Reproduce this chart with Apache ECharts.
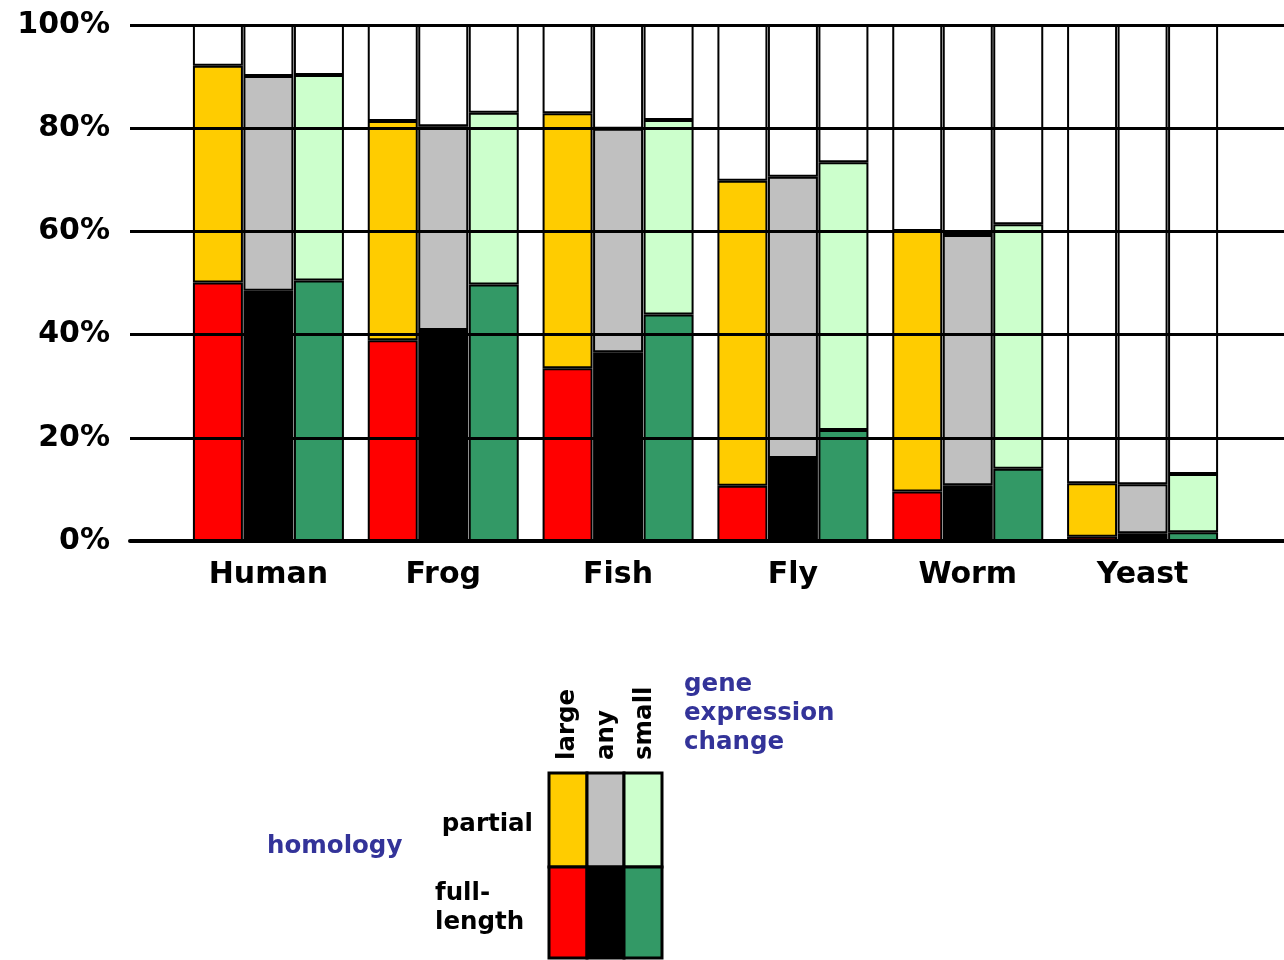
<!DOCTYPE html>
<html>
<head>
<meta charset="utf-8">
<script src="https://cdn.jsdelivr.net/npm/echarts@6/dist/echarts.min.js"></script>
<style>
html,body{margin:0;padding:0;background:#fff;}
#chart{width:1284px;height:960px;}
</style>
</head>
<body>
<div id="chart"></div>
<script>
// Categories
const categories = ['Human', 'Frog', 'Fish', 'Fly', 'Worm', 'Yeast'];
// Y tick labels
const yTicks = [0, 20, 40, 60, 80, 100];

// Full-length homology (%), bottom segment
const fullLarge = [50.1, 38.9, 33.5, 10.7, 9.6, 0.8];
const fullAny   = [48.5, 40.9, 36.6, 16.1, 10.8, 1.5];
const fullSmall = [50.5, 49.7, 43.9, 21.5, 14.0, 1.7];

// Partial homology (%), middle segment
const partialLarge = [42.0, 42.5, 49.4, 59.1, 50.5, 10.4];
const partialAny   = [41.6, 39.5, 43.3, 54.5, 48.5, 9.5];
const partialSmall = [39.8, 33.3, 37.7, 51.9, 47.4, 11.3];

// No homology (%), white top segment
const noneLarge = [7.9, 18.6, 17.1, 30.2, 39.9, 88.8];
const noneAny   = [9.9, 19.6, 20.1, 29.4, 40.7, 89.0];
const noneSmall = [9.7, 17.0, 18.4, 26.6, 38.6, 87.0];

const FONT = 'DejaVu Sans';
const chart = echarts.init(document.getElementById('chart'), null, {renderer: 'canvas'});

function bar(name, stack, data, color) {
  return {
    name: name, type: 'bar', xAxisIndex: 1, yAxisIndex: 1,
    stack: stack, data: data, barWidth: 50, barGap: '1%',
    itemStyle: {color: color, borderColor: '#000', borderWidth: 2},
    emphasis: {disabled: true}, animation: false
  };
}

const legendCells = [];
const colX = [549, 587, 624, 662];
const rowY = [773, 867, 958];
const cellColors = [['#FFCC00', '#C0C0C0', '#CCFFCC'], ['#FF0000', '#000000', '#339966']];
for (let r = 0; r < 2; r++) {
  for (let c = 0; c < 3; c++) {
    legendCells.push({
      type: 'rect',
      shape: {x: colX[c], y: rowY[r], width: colX[c + 1] - colX[c], height: rowY[r + 1] - rowY[r]},
      style: {fill: cellColors[r][c], stroke: '#000', lineWidth: 3}
    });
  }
}
const textStyle = (t, extra) => Object.assign({text: t, fill: '#000', font: 'bold 24.5px "' + FONT + '"'}, extra);

const option = {
  backgroundColor: '#fff',
  animation: false,
  grid: [
    {left: 130, right: 0, top: 25, bottom: 419, containLabel: false},
    {left: 181, right: 54, top: 25, bottom: 419, containLabel: false}
  ],
  xAxis: [
    {type: 'value', gridIndex: 0, min: 0, max: 1, z: 10,
     axisLine: {show: true, lineStyle: {color: '#000', width: 4}},
     axisTick: {show: false}, axisLabel: {show: false}, splitLine: {show: false}},
    {type: 'category', gridIndex: 1, data: categories,
     axisLine: {show: false}, axisTick: {show: false}, splitLine: {show: false},
     axisLabel: {color: '#000', fontFamily: FONT, fontWeight: 'bold', fontSize: 30, margin: 19}}
  ],
  yAxis: [
    {type: 'value', gridIndex: 0, min: 0, max: 100, interval: 20, z: 10,
     axisLine: {show: false}, axisTick: {show: false},
     axisLabel: {color: '#000', fontFamily: FONT, fontWeight: 'bold', fontSize: 30, margin: 20,
       formatter: v => (yTicks.indexOf(v) >= 0 ? v + '%' : '')},
     splitLine: {show: true, lineStyle: {color: '#000', width: 3}}},
    {type: 'value', gridIndex: 1, min: 0, max: 100, show: false, splitLine: {show: false}}
  ],
  series: [
    bar('full large', 'L', fullLarge, '#FF0000'),
    bar('full any', 'A', fullAny, '#000000'),
    bar('full small', 'S', fullSmall, '#339966'),
    bar('partial large', 'L', partialLarge, '#FFCC00'),
    bar('partial any', 'A', partialAny, '#C0C0C0'),
    bar('partial small', 'S', partialSmall, '#CCFFCC'),
    bar('none large', 'L', noneLarge, '#FFFFFF'),
    bar('none any', 'A', noneAny, '#FFFFFF'),
    bar('none small', 'S', noneSmall, '#FFFFFF')
  ],
  graphic: [
    ...legendCells,
    {type: 'text', x: 568, y: 760, rotation: Math.PI / 2, style: textStyle('large', {align: 'left', verticalAlign: 'middle'})},
    {type: 'text', x: 607, y: 760, rotation: Math.PI / 2, style: textStyle('any', {align: 'left', verticalAlign: 'middle'})},
    {type: 'text', x: 645, y: 760, rotation: Math.PI / 2, style: textStyle('small', {align: 'left', verticalAlign: 'middle'})},
    {type: 'text', x: 684, y: 670, style: textStyle('gene\nexpression\nchange', {fill: '#333399', align: 'left', verticalAlign: 'top', lineHeight: 29})},
    {type: 'text', x: 533, y: 825, style: textStyle('partial', {align: 'right', verticalAlign: 'middle'})},
    {type: 'text', x: 435, y: 879, style: textStyle('full-\nlength', {align: 'left', verticalAlign: 'top', lineHeight: 29})},
    {type: 'text', x: 267, y: 847, style: textStyle('homology', {fill: '#333399', align: 'left', verticalAlign: 'middle'})}
  ]
};
chart.setOption(option);
</script>
</body>
</html>
